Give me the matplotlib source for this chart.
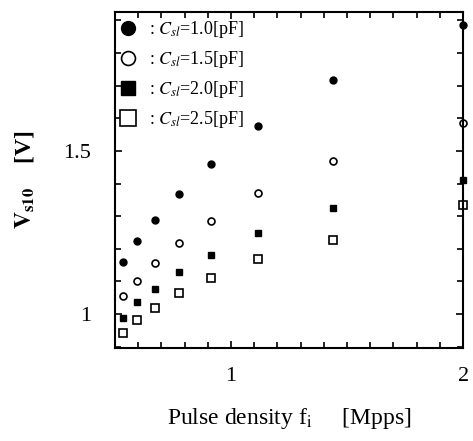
import matplotlib
matplotlib.use("Agg")
import matplotlib.pyplot as plt
from matplotlib.ticker import MultipleLocator, FuncFormatter

plt.rcParams['font.family'] = ['Liberation Serif', 'DejaVu Serif']
plt.rcParams['mathtext.fontset'] = 'stix'

# pulse density [Mpps]
fi = [0.533, 0.597, 0.673, 0.777, 0.916, 1.117, 1.438, 2.0]

# Vs10 [V] for each Csl
v_10 = [1.160, 1.225, 1.288, 1.367, 1.459, 1.575, 1.718, 1.886]
v_15 = [1.055, 1.102, 1.156, 1.219, 1.284, 1.372, 1.469, 1.585]
v_20 = [0.989, 1.036, 1.077, 1.129, 1.182, 1.248, 1.326, 1.411]
v_25 = [0.943, 0.982, 1.019, 1.063, 1.110, 1.169, 1.227, 1.334]

labels = [r': $C_{sl}$=1.0[pF]', r': $C_{sl}$=1.5[pF]',
          r': $C_{sl}$=2.0[pF]', r': $C_{sl}$=2.5[pF]']

fig = plt.figure(figsize=(4.73, 4.41), dpi=100)
ax = fig.add_axes([0.243, 0.211, 0.736, 0.762])

open_kw = dict(markerfacecolor='white', markeredgecolor='black',
               markeredgewidth=1.2, linestyle='none', clip_on=False)
ax.plot(fi, v_10, 'o', color='black', markersize=5, clip_on=False,
        label=labels[0])
ax.plot(fi, v_15, 'o', markersize=5, label=labels[1], **open_kw)
ax.plot(fi, v_20, 's', color='black', markersize=5, clip_on=False,
        label=labels[2])
ax.plot(fi, v_25, 's', markersize=6, label=labels[3], **open_kw)

ax.set_xlim(0.5, 2.0)
ax.set_ylim(0.896, 1.926)

ax.xaxis.set_major_locator(MultipleLocator(1))
ax.xaxis.set_minor_locator(MultipleLocator(0.1))
ax.yaxis.set_major_locator(MultipleLocator(0.5))
ax.yaxis.set_minor_locator(MultipleLocator(0.1))
fmt = FuncFormatter(lambda v, p: '%g' % v)
ax.xaxis.set_major_formatter(fmt)
ax.yaxis.set_major_formatter(fmt)

ax.tick_params(which='both', direction='in', top=True, right=True,
               labelsize=16, width=1.2)
ax.tick_params(which='major', length=5)
ax.tick_params(axis='y', which='major', pad=17)
ax.tick_params(axis='x', which='major', pad=14)
ax.tick_params(which='minor', length=4)
for s in ax.spines.values():
    s.set_linewidth(1.5)

ax.set_xlabel(r'Pulse density f$_{\mathrm{i}}$     [Mpps]', fontsize=17,
              labelpad=14)
ax.set_ylabel(r'$\mathbf{V}_{\mathbf{s10}}$    [V]', fontsize=17,
              fontweight='bold', labelpad=20)

leg = ax.legend(loc='upper left', frameon=False, markerscale=2.0,
                handlelength=0.6, handletextpad=0.9, borderaxespad=0.05,
                borderpad=0.35, labelspacing=0.5, fontsize=13)

fig.savefig('out.png', dpi=100)
